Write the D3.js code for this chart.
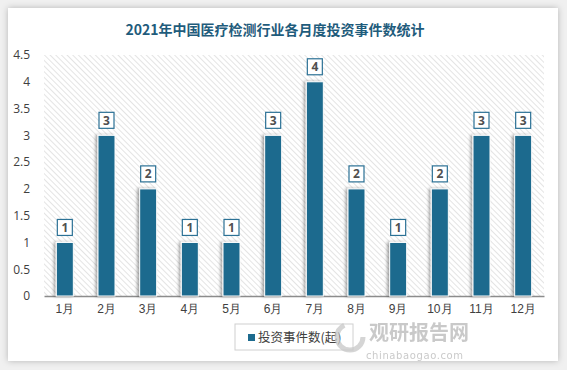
<!DOCTYPE html>
<html>
<head>
<meta charset="utf-8">
<script src="https://cdn.jsdelivr.net/npm/d3@7"></script>
<style>
  body { margin: 0; background: #f2f2f2; }
  svg { display: block; font-family: "Microsoft YaHei", "Noto Sans CJK SC", sans-serif; }
</style>
</head>
<body>
<script>
// data
var months = ["1月","2月","3月","4月","5月","6月","7月","8月","9月","10月","11月","12月"];
var counts = [1, 3, 2, 1, 1, 3, 4, 2, 1, 2, 3, 3];
var yTicks = [0, 0.5, 1, 1.5, 2, 2.5, 3, 3.5, 4, 4.5];
var seriesName = "投资事件数(起)";
var title = "2021年中国医疗检测行业各月度投资事件数统计";

var width = 567, height = 370;
var margin = {left: 44, right: 23, top: 55, bottom: 74};
var barColor = "#1d6b8e";

var svg = d3.select("body").append("svg")
    .attr("width", width)
    .attr("height", height);

var defs = svg.append("defs");

// card shadow
var shadow = defs.append("filter").attr("id", "cardShadow")
    .attr("x", "-5%").attr("y", "-5%").attr("width", "110%").attr("height", "110%");
shadow.append("feDropShadow")
    .attr("dx", 0).attr("dy", 0).attr("stdDeviation", 3)
    .attr("flood-color", "#000").attr("flood-opacity", 0.25);

var barShadow = defs.append("filter").attr("id", "barShadow")
    .attr("x", "-50%").attr("y", "-10%").attr("width", "200%").attr("height", "120%");
barShadow.append("feDropShadow")
    .attr("dx", -2).attr("dy", 0).attr("stdDeviation", 1.5)
    .attr("flood-color", "#000").attr("flood-opacity", 0.35);

// hatch pattern for plot background
var hatch = defs.append("pattern").attr("id", "hatch")
    .attr("patternUnits", "userSpaceOnUse")
    .attr("width", 4).attr("height", 4)
    .attr("patternTransform", "rotate(-45)");
hatch.append("rect").attr("width", 4).attr("height", 4).attr("fill", "#fff");
hatch.append("line")
    .attr("x1", 0).attr("y1", 0).attr("x2", 0).attr("y2", 4)
    .attr("stroke", "#d6d6d6").attr("stroke-width", 1.3);

svg.append("rect")
    .attr("x", 0).attr("y", 0).attr("width", width).attr("height", height)
    .attr("fill", "#f0f0f0");

svg.append("rect")
    .attr("x", 8).attr("y", 8).attr("width", 550).attr("height", 353)
    .attr("fill", "#fff")
    .attr("filter", "url(#cardShadow)");

// title
svg.append("text")
    .attr("x", 275).attr("y", 35)
    .attr("text-anchor", "middle")
    .attr("font-size", 14)
    .attr("font-weight", "bold")
    .attr("fill", "#1f5c7c")
    .text(title);

// scales
var x = d3.scaleBand()
    .domain(months)
    .range([margin.left, width - margin.right]);

var y = d3.scaleLinear()
    .domain([0, 4.5])
    .range([height - margin.bottom, margin.top]);

// plot background
svg.append("rect")
    .attr("x", margin.left).attr("y", margin.top)
    .attr("width", width - margin.left - margin.right)
    .attr("height", height - margin.top - margin.bottom)
    .attr("fill", "url(#hatch)");

// y axis
var yAxis = svg.append("g")
    .attr("transform", "translate(" + (margin.left - 11) + ",0)")
    .call(d3.axisLeft(y).tickValues(yTicks).tickSize(0).tickFormat(d3.format("")));
yAxis.select(".domain").remove();
yAxis.selectAll("text")
    .attr("font-size", 12)
    .attr("fill", "#404040")
    .attr("font-family", "\"Open Sans\", \"Noto Sans\", sans-serif");

// x axis
var xAxis = svg.append("g")
    .attr("transform", "translate(0," + (height - margin.bottom) + ")")
    .call(d3.axisBottom(x).tickSize(0).tickPadding(8));
xAxis.select(".domain").attr("stroke", "#8c8c8c").attr("stroke-width", 1.5);
xAxis.selectAll("text")
    .attr("font-size", 12)
    .attr("fill", "#404040");

// bars
var barW = 17;
svg.selectAll(".bar")
    .data(counts)
    .enter()
    .append("rect")
    .attr("class", "bar")
    .attr("x", function(d, i){ return x(months[i]) + x.bandwidth() / 2 - barW / 2; })
    .attr("y", function(d){ return y(d); })
    .attr("width", barW)
    .attr("height", function(d){ return y(0) - y(d); })
    .attr("fill", barColor)
    .attr("stroke", "#fff")
    .attr("stroke-width", 1)
    .attr("filter", "url(#barShadow)");

// value labels
var labels = svg.selectAll(".lbl")
    .data(counts)
    .enter()
    .append("g")
    .attr("class", "lbl")
    .attr("transform", function(d, i){
        return "translate(" + (x(months[i]) + x.bandwidth() / 2) + "," + (y(d) - 15) + ")";
    });
labels.append("rect")
    .attr("x", -7.5).attr("y", -8).attr("width", 15).attr("height", 16)
    .attr("fill", "#fff")
    .attr("stroke", "#2b7195")
    .attr("stroke-width", 1.2);
labels.append("text")
    .attr("text-anchor", "middle")
    .attr("dy", "0.36em")
    .attr("font-size", 12)
    .attr("font-weight", "bold")
    .attr("fill", "#505050")
    .attr("font-family", "\"Open Sans\", sans-serif")
    .text(function(d){ return d; });

// legend
var legend = svg.append("g").attr("transform", "translate(235,324)");
legend.append("rect")
    .attr("width", 118).attr("height", 26)
    .attr("fill", "#fff")
    .attr("stroke", "#d0d0d0");
legend.append("rect")
    .attr("x", 13).attr("y", 10).attr("width", 7).attr("height", 7)
    .attr("fill", barColor);
legend.append("text")
    .attr("x", 23).attr("y", 18)
    .attr("font-size", 12.5)
    .attr("fill", "#404040")
    .text(seriesName);

// watermark
var wm = svg.append("g").attr("opacity", 0.75);
wm.append("circle")
    .attr("cx", 350).attr("cy", 337).attr("r", 13)
    .attr("fill", "none").attr("stroke", "#c8c8c8").attr("stroke-width", 5)
    .attr("stroke-dasharray", "55 27");
wm.append("text")
    .attr("x", 369).attr("y", 340)
    .attr("font-size", 20).attr("font-weight", "bold")
    .attr("fill", "#b8b8b8")
    .text("观研报告网");
wm.append("text")
    .attr("x", 366).attr("y", 359)
    .attr("font-size", 10)
    .attr("fill", "#b8b8b8")
    .attr("font-family", "\"DejaVu Sans\", sans-serif")
    .attr("letter-spacing", 0.6)
    .text("chinabaogao.com");
</script>
</body>
</html>
